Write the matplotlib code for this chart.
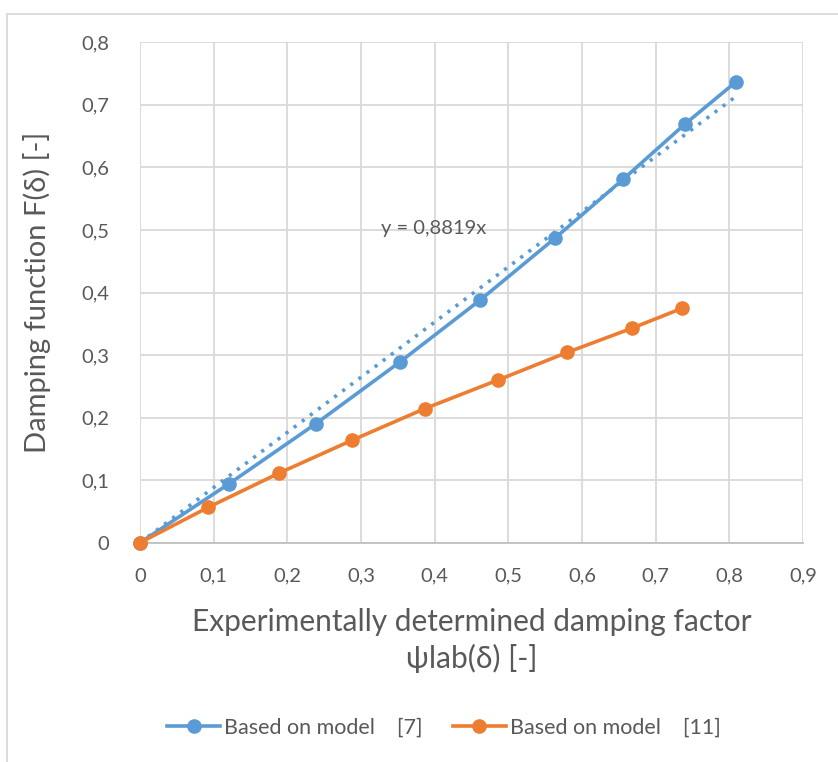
import matplotlib
matplotlib.use("Agg")
import matplotlib.pyplot as plt
from matplotlib.patches import Rectangle
from matplotlib.ticker import FuncFormatter, MultipleLocator

plt.rcParams['font.family'] = ['Lato', 'DejaVu Sans']

# Data
x_model7 = [0.0, 0.1203, 0.2388, 0.3528, 0.4618, 0.5631, 0.6563, 0.7395, 0.8087]
y_model7 = [0.0, 0.0938, 0.1903, 0.2889, 0.3880, 0.4866, 0.5815, 0.6690, 0.7365]
x_model11 = [0.0, 0.0927, 0.1890, 0.2877, 0.3863, 0.4858, 0.5803, 0.6676, 0.7358]
y_model11 = [0.0, 0.0566, 0.1114, 0.1637, 0.2142, 0.2600, 0.3044, 0.3428, 0.3747]
trend_slope = 0.8819
labels = ["Based on model    [7]", "Based on model    [11]"]

blue = "#5b9bd5"
orange = "#ed7d31"
txt = "#595959"
grid = "#d9d9d9"

fig = plt.figure(figsize=(8.38, 7.62), dpi=100)
fig.patches.append(Rectangle((6.5/838, -0.1), 1.2, 1 - 13.5/762 + 0.1,
                             transform=fig.transFigure, fill=False,
                             edgecolor=grid, linewidth=1.3, zorder=0))
ax = fig.add_axes([140/838, 1 - 542.7/762, (803 - 140)/838, (542.7 - 42.3)/762])

ax.set_xlim(0, 0.9)
ax.set_ylim(0, 0.8)
ax.xaxis.set_major_locator(MultipleLocator(0.1))
ax.yaxis.set_major_locator(MultipleLocator(0.1))
fmt = FuncFormatter(lambda v, p: ("%g" % round(v, 2)).replace(".", ","))
ax.xaxis.set_major_formatter(fmt)
ax.yaxis.set_major_formatter(fmt)
ax.grid(True, color=grid, linewidth=1.3)
ax.set_axisbelow(True)
for s in ["top", "right", "left"]:
    ax.spines[s].set_visible(False)
ax.spines["bottom"].set_color("#bfbfbf")
ax.spines["bottom"].set_linewidth(1.3)
ax.tick_params(length=0, labelsize=14.5, labelcolor=txt)
ax.tick_params(axis='x', pad=18)
ax.tick_params(axis='y', pad=22)

l1, = ax.plot(x_model7, y_model7, color=blue, linewidth=2.6, marker='o',
              markersize=9.5, zorder=4, clip_on=False, label=labels[0])
l2, = ax.plot(x_model11, y_model11, color=orange, linewidth=2.6, marker='o',
              markersize=9.5, zorder=5, clip_on=False, label=labels[1])
xt = [0, max(x_model7)]
ax.plot(xt, [trend_slope * v for v in xt], color=blue, linewidth=2.6,
        linestyle=(0, (0.9, 1.9)), zorder=3)
ax.text(0.327, 0.503, "y = " + ("%.4f" % trend_slope).replace(".", ",") + "x",
        fontsize=14.5, color=txt, va='center', ha='left')

ax.set_xlabel("Experimentally determined damping factor\nψlab(δ) [-]",
              fontsize=21.5, color=txt, labelpad=17, linespacing=1.3)
ax.set_ylabel("Damping function F(δ) [-]", fontsize=21, color=txt, labelpad=22)

leg = fig.legend(handles=[l1, l2], labels=labels, loc='center',
                 bbox_to_anchor=(0.53, 1 - 728/762), ncol=2, frameon=False,
                 fontsize=15.5, handlelength=2.45, columnspacing=1.4,
                 handletextpad=0.2)
for t in leg.get_texts():
    t.set_color(txt)

fig.savefig("out.png", dpi=100)
